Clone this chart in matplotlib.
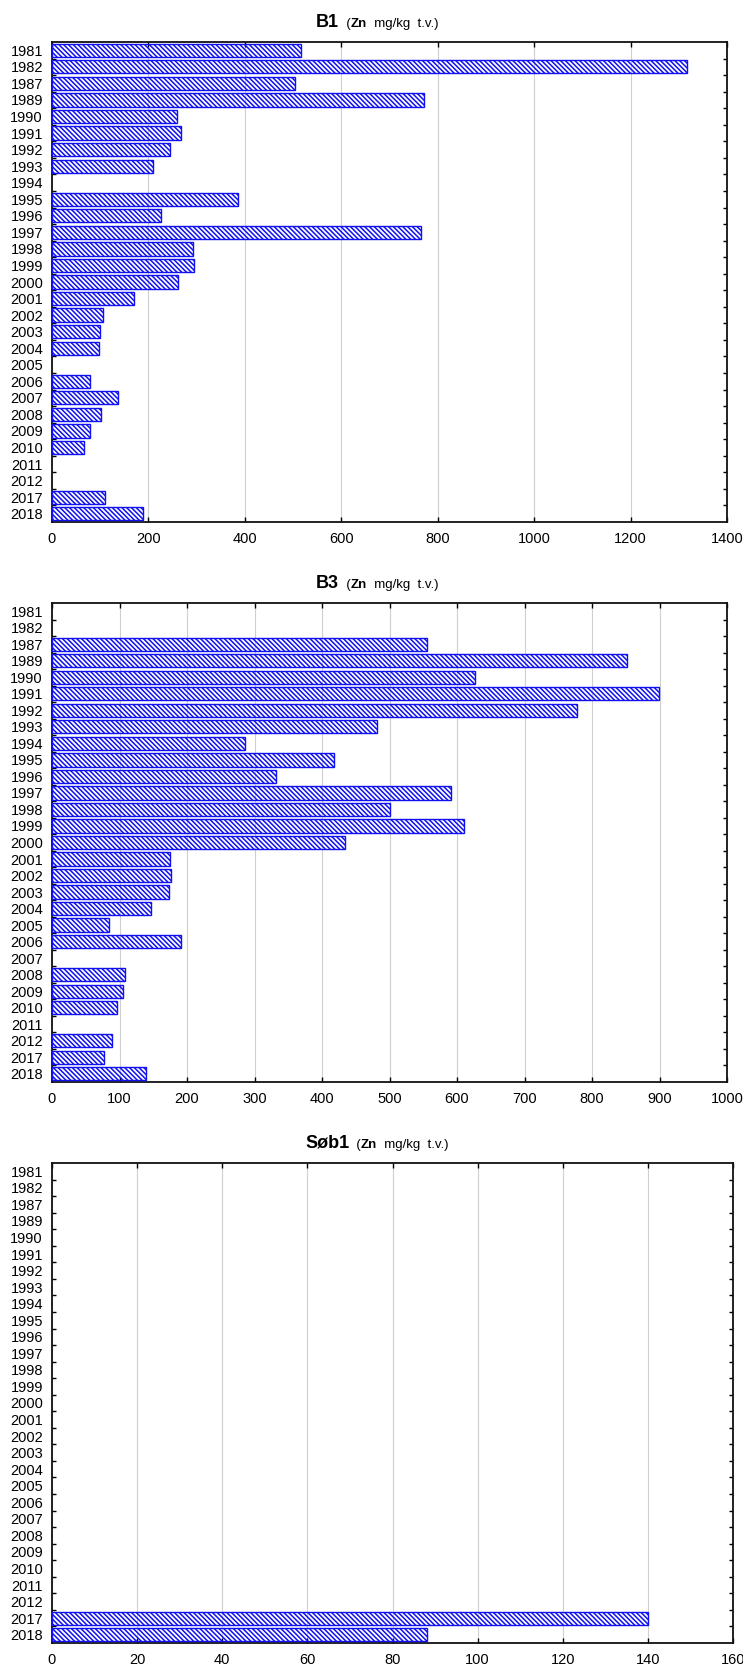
import numpy as np
import matplotlib
matplotlib.use("Agg")
import matplotlib.pyplot as plt
from matplotlib.offsetbox import TextArea, HPacker, AnnotationBbox

plt.rcParams['font.family'] = ['Liberation Sans', 'DejaVu Sans']
plt.rcParams['hatch.linewidth'] = 1.1

nan = np.nan

years = ["1981", "1982", "1987", "1989", "1990", "1991", "1992", "1993", "1994",
         "1995", "1996", "1997", "1998", "1999", "2000", "2001", "2002", "2003",
         "2004", "2005", "2006", "2007", "2008", "2009", "2010", "2011", "2012",
         "2017", "2018"]

b1_zn = [517, 1316, 505, 772, 259, 267, 245, 209, nan,
         385, 227, 766, 292, 295, 261, 171, 106, 99,
         98, nan, 78, 137, 102, 78, 67, nan, nan,
         109, 188]

b3_zn = [nan, nan, 556, 852, 626, 899, 778, 482, 286,
         418, 332, 591, 501, 610, 434, 175, 177, 173,
         146, 85, 191, nan, 108, 105, 96, nan, 89,
         77, 139]

sob1_zn = [nan] * 27 + [140, 88]

stations = ["B1", "B3", "Søb1"]
series = [b1_zn, b3_zn, sob1_zn]
xmax = [1400, 1000, 160]
xstep = [200, 100, 20]

W, H = 743, 1666
fig = plt.figure(figsize=(W / 100, H / 100), dpi=100)

# axes boxes in pixels: left, right, top, bottom
boxes = [(52, 727, 42, 522), (52, 727, 603, 1082), (52, 733, 1163, 1643)]
title_bottom = [31, 592, 1152]
hatch = chr(92) * 7

for k, (name, vals, xm, xs) in enumerate(zip(stations, series, xmax, xstep)):
    l, r, t, b = boxes[k]
    ax = fig.add_axes([l / W, 1 - b / H, (r - l) / W, (b - t) / H])
    n = len(years)
    y = np.arange(n)
    v = np.array(vals, dtype=float)
    ax.barh(y, v, height=0.8, facecolor='none', edgecolor='#1010f0',
            linewidth=1.0, hatch=hatch, zorder=3)
    ax.set_xlim(0, xm)
    ax.set_ylim(n - 0.5, -0.5)
    ax.set_xticks(np.arange(0, xm + 1, xs))
    ax.set_yticks(np.arange(0.5, n - 1, 1.0))
    ax.set_yticklabels([])
    ax.set_yticks(y, minor=True)
    ax.set_yticklabels(years, minor=True)
    ax.tick_params(axis='y', which='minor', length=0, pad=6.5, labelsize=10.5)
    ax.tick_params(axis='y', which='major', direction='in', length=3, width=1,
                   left=True, right=True)
    ax.tick_params(axis='x', which='major', direction='in', length=3.5, width=1,
                   top=True, bottom=True, pad=7, labelsize=10.5)
    ax.xaxis.grid(True, color='#cfcfcf', linewidth=0.8, zorder=0)
    ax.set_axisbelow(True)
    for s in ax.spines.values():
        s.set_linewidth(1.3)
        s.set_color('#111111')

    parts = [TextArea(name, textprops=dict(fontsize=13, fontweight='bold')),
             TextArea("  (", textprops=dict(fontsize=9.5)),
             TextArea("Zn", textprops=dict(fontsize=9.5, fontweight='bold')),
             TextArea("  mg/kg  t.v.)", textprops=dict(fontsize=9.5))]
    box = HPacker(children=parts, align='baseline', pad=0, sep=0)
    ab = AnnotationBbox(box, (377 / W, 1 - title_bottom[k] / H),
                        xycoords='figure fraction', box_alignment=(0.5, 0),
                        frameon=False, pad=0)
    fig.add_artist(ab)

fig.savefig("out.png", dpi=100)
